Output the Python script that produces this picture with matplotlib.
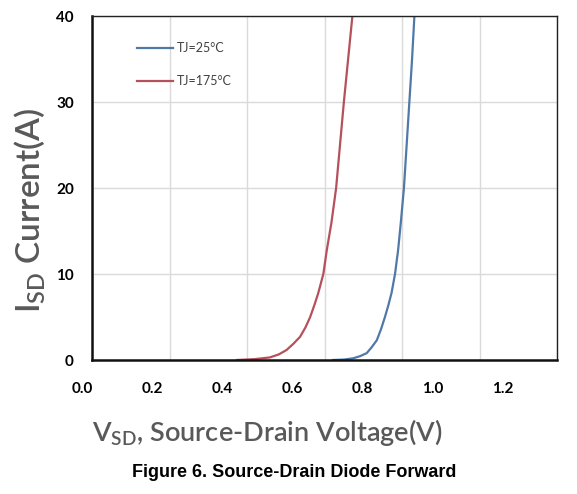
import matplotlib
matplotlib.use("Agg")
import matplotlib.pyplot as plt

# values
v_25c = [0.622, 0.650, 0.674, 0.692, 0.709, 0.722, 0.735, 0.746, 0.756, 0.765, 0.773, 0.782, 0.790, 0.797, 0.805, 0.812, 0.819, 0.826, 0.832]
i_25c = [0.0, 0.05, 0.2, 0.45, 0.8, 1.5, 2.3, 3.6, 5.0, 6.4, 7.8, 10.0, 12.8, 16.0, 20.0, 25.0, 30.0, 35.0, 40.0]

v_175c = [0.374, 0.420, 0.459, 0.482, 0.502, 0.520, 0.537, 0.551, 0.563, 0.574, 0.584, 0.597, 0.606, 0.618, 0.630, 0.640, 0.650, 0.661, 0.672]
i_175c = [0.0, 0.1, 0.3, 0.65, 1.16, 1.9, 2.7, 3.8, 5.0, 6.4, 7.8, 10.0, 12.8, 16.0, 20.0, 25.0, 30.0, 35.0, 40.0]

x_ticks = [0.0, 0.2, 0.4, 0.6, 0.8, 1.0, 1.2]
y_ticks = [0, 10, 20, 30, 40]

W, H = 577, 494
fig = plt.figure(figsize=(W / 100, H / 100), dpi=100)
ax = fig.add_axes([92 / W, 1 - 360 / H, 465 / W, 344 / H])

ax.plot(v_25c, i_25c, color="#5079A8", lw=1.6, label="TJ=25°C")
ax.plot(v_175c, i_175c, color="#B5515B", lw=1.6, label="TJ=175°C")

ax.set_xlim(0, 1.2)
ax.set_ylim(0, 40)
ax.set_xticks(x_ticks)
ax.set_yticks(y_ticks)
ax.grid(True, color="#DADADA", lw=1.0)
ax.set_axisbelow(True)

for side in ["top", "right"]:
    ax.spines[side].set_linewidth(1.0)
    ax.spines[side].set_color("#222222")
for side in ["left", "bottom"]:
    ax.spines[side].set_linewidth(1.8)
    ax.spines[side].set_color("#111111")

ax.tick_params(length=0)
ax.tick_params(axis="x", labelbottom=False)
ax.tick_params(axis="y", pad=13)
for lab in ax.get_yticklabels():
    lab.set_fontfamily("Lato")
    lab.set_fontweight("bold")
    lab.set_fontsize(11)

# the x tick labels in the source sit on a slightly narrower scale than the grid
lab_ax = fig.add_axes([82 / W, 1 - 360 / H, 421 / W, 344 / H])
lab_ax.patch.set_visible(False)
for s in lab_ax.spines.values():
    s.set_visible(False)
lab_ax.set_xlim(0, 1.2)
lab_ax.set_xticks(x_ticks)
lab_ax.set_xticklabels([f"{x:.1f}" for x in x_ticks])
lab_ax.set_yticks([])
lab_ax.tick_params(length=0, pad=16)
for lab in lab_ax.get_xticklabels():
    lab.set_fontfamily("Lato")
    lab.set_fontweight("bold")
    lab.set_fontsize(11)

fig.text(267 / W, 1 - 432 / H, r"V$_\mathregular{SD}$, Source-Drain Voltage(V)", family="Lato",
         fontsize=19.5, fontweight="semibold", color="#595959", ha="center", va="center")
fig.text(30 / W, 1 - 210 / H, r"I$_\mathregular{SD}$ Current(A)", family="Lato",
         fontsize=24, fontweight="semibold", color="#595959", ha="center", va="center",
         rotation=90)

leg = ax.legend(loc="upper left", bbox_to_anchor=(0.073, 0.956), frameon=False,
                handlelength=2.9, handletextpad=0.25, labelspacing=1.65,
                prop={"family": "Lato", "size": 9})
for t in leg.get_texts():
    t.set_color("#404040")

fig.text(294 / W, 1 - 472 / H, "Figure 6. Source-Drain Diode Forward", ha="center", va="center",
         family="Liberation Sans", fontweight="bold", fontsize=13)

fig.savefig("out.png", dpi=100)
